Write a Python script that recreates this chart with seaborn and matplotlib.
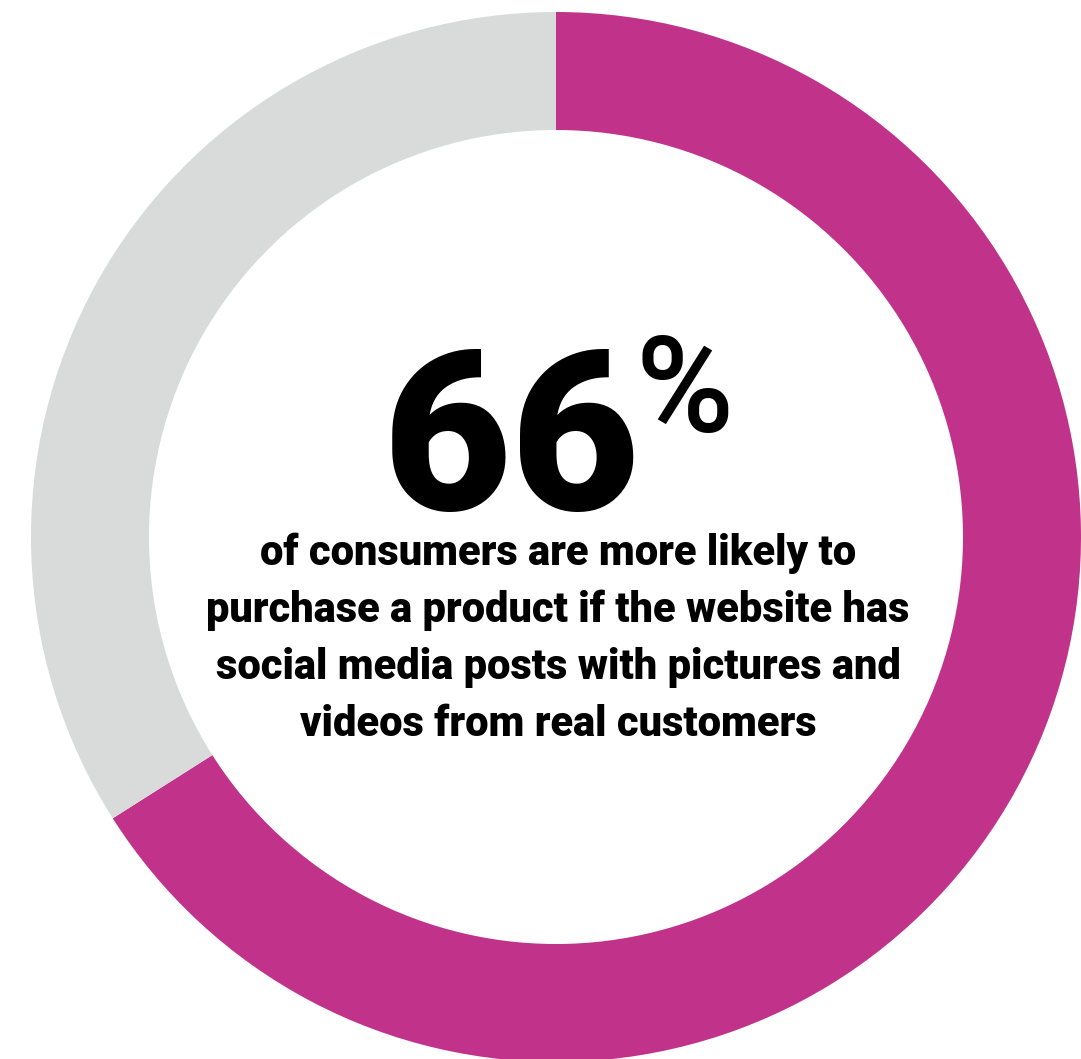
import matplotlib
matplotlib.use("Agg")
import matplotlib.pyplot as plt
import seaborn as sns

sns.set_theme(style="white")
plt.rcParams['font.family'] = ['Roboto', 'DejaVu Sans']

labels = ["More likely to purchase", "Other"]
values = [66, 34]
colors = ["#C1338A", "#D9DBDA"]
big_number = "66"
pct_sign = "%"
caption_lines = [
    "of consumers are more likely to",
    "purchase a product if the website has",
    "social media posts with pictures and",
    "videos from real customers",
]

W, H = 1081, 1059
fig = plt.figure(figsize=(W / 100, H / 100), dpi=100)
ax = fig.add_axes([0, 0, 1, 1])

def Y(ypix):
    return H - ypix

cx, cy, R, ring = 556, Y(537), 525, 118
ax.pie(values, colors=colors, startangle=90, counterclock=False,
       center=(cx, cy), radius=R, frame=True,
       wedgeprops=dict(width=ring, linewidth=0))
ax.set_xlim(0, W)
ax.set_ylim(0, H)
ax.axis("off")

ax.text(640, Y(510), big_number, ha="right", va="baseline", fontsize=160,
        fontweight="black", color="black")
ax.text(636, Y(432), pct_sign, ha="left", va="baseline", fontsize=96,
        fontweight="medium", color="black")

y0, dy = 565, 57
for i, line in enumerate(caption_lines):
    ax.text(558, Y(y0 + i * dy), line, ha="center", va="baseline", fontsize=30,
            fontweight="black", color="black")

fig.savefig("out.png", dpi=100)
